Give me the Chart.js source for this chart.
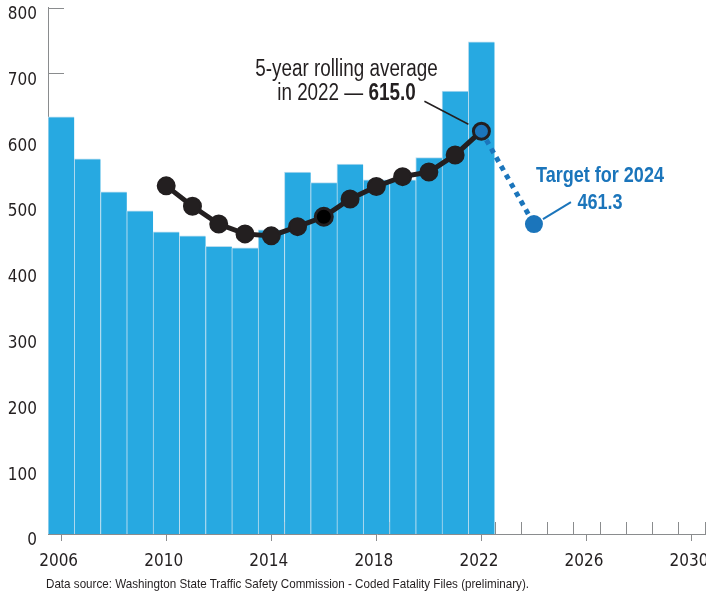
<!DOCTYPE html>
<html>
<head>
<meta charset="utf-8">
<script src="https://cdn.jsdelivr.net/npm/chart.js@4.4.1/dist/chart.umd.min.js"></script>
<style>
  html, body { margin: 0; padding: 0; background: #fff; }
  #wrap { position: relative; width: 706px; height: 596px; }
  #note { position: absolute; left: 46px; top: 576px; font: 13px 'Liberation Sans', Arial, sans-serif; color: #231f20; white-space: nowrap; transform: scaleX(0.895); transform-origin: 0 0; }
</style>
</head>
<body>
<div id="wrap">
  <canvas id="chart" width="706" height="596"></canvas>
  <div id="note">Data source: Washington State Traffic Safety Commission - Coded Fatality Files (preliminary).</div>
</div>
<script>
const years = [2006, 2007, 2008, 2009, 2010, 2011, 2012, 2013, 2014, 2015, 2016, 2017, 2018, 2019, 2020, 2021, 2022];
const fatalities = [634, 570, 520, 491, 459, 453, 437, 435, 462, 550, 534, 562, 538, 538, 572, 673, 748];
const avgYears = [2010, 2011, 2012, 2013, 2014, 2015, 2016, 2017, 2018, 2019, 2020, 2021, 2022];
const rollingAvg = [529, 498, 471, 456, 453, 467, 482, 509, 528, 543, 550, 576, 612];
const targetYears = [2022, 2024];
const targetValues = [612, 471];
const xTickYears = [2006, 2010, 2014, 2018, 2022, 2026, 2030];
const yTicks = [0, 100, 200, 300, 400, 500, 600, 700, 800];

const TICKFONT = "'DejaVu Sans Condensed', sans-serif";
const FONT = "'Liberation Sans', Arial, sans-serif";
const INK = '#231f20';
const BLUE = '#1b75bb';
const AXIS = '#8a8c8e';
const SQUEEZE = 0.82;

const avgColors = avgYears.map(y => y === 2022 ? BLUE : (y === 2016 ? '#000' : INK));
const avgBorderW = avgYears.map(y => (y === 2022 || y === 2016) ? 3 : 2);

// draw condensed text (Arial squeezed to look like a narrow face)
function narrow(ctx, text, x, y, font, align) {
  ctx.font = font;
  const w = ctx.measureText(text).width * SQUEEZE;
  const left = align === 'center' ? x - w / 2 : x;
  ctx.save();
  ctx.translate(left, y);
  ctx.scale(SQUEEZE, 1);
  ctx.textAlign = 'left';
  ctx.fillText(text, 0, 0);
  ctx.restore();
  return w;
}

// small axis ticks that sit behind the bars
const axisTicks = {
  id: 'axisTicks',
  beforeDatasetsDraw(chart) {
    const { ctx, scales: { x, y } } = chart;
    ctx.save();
    ctx.strokeStyle = AXIS;
    ctx.lineWidth = 1;
    ctx.beginPath();
    yTicks.slice(1).forEach(v => {
      const py = Math.round(y.getPixelForValue(v)) + 0.5;
      ctx.moveTo(x.left, py);
      ctx.lineTo(x.left + 16, py);
    });
    for (let yr = 2005.5; yr <= 2030.5; yr++) {
      const px = Math.round(x.getPixelForValue(yr)) + 0.5;
      ctx.moveTo(px, y.bottom);
      ctx.lineTo(px, y.bottom - 12);
    }
    ctx.stroke();
    ctx.restore();
  }
};

const notes = {
  id: 'notes',
  afterDatasetsDraw(chart) {
    const { ctx, scales: { x, y } } = chart;
    const last = { x: x.getPixelForValue(2022), y: y.getPixelForValue(612) };
    const tgt = { x: x.getPixelForValue(2024), y: y.getPixelForValue(471) };
    ctx.save();
    ctx.textBaseline = 'alphabetic';
    // rolling average label
    ctx.fillStyle = INK;
    const cx = last.x - 135;
    narrow(ctx, '5-year rolling average', cx, 76, '23px ' + FONT, 'center');
    const a = 'in 2022 \u2014 ', b = '615.0';
    ctx.font = '23px ' + FONT;
    const wa = ctx.measureText(a).width * SQUEEZE;
    ctx.font = 'bold 23px ' + FONT;
    const wb = ctx.measureText(b).width * SQUEEZE;
    narrow(ctx, a, cx - (wa + wb) / 2, 100, '23px ' + FONT, 'left');
    narrow(ctx, b, cx - (wa + wb) / 2 + wa, 100, 'bold 23px ' + FONT, 'left');
    ctx.strokeStyle = INK;
    ctx.lineWidth = 1.5;
    ctx.beginPath();
    ctx.moveTo(last.x - 57, last.y - 30);
    ctx.lineTo(last.x - 13, last.y - 7);
    ctx.stroke();
    // target label
    ctx.fillStyle = BLUE;
    narrow(ctx, 'Target for 2024', tgt.x + 66, 182, 'bold 22px ' + FONT, 'center');
    narrow(ctx, '461.3', tgt.x + 66, 209, 'bold 22px ' + FONT, 'center');
    ctx.strokeStyle = BLUE;
    ctx.lineWidth = 2;
    ctx.beginPath();
    ctx.moveTo(tgt.x + 9, tgt.y - 5);
    ctx.lineTo(tgt.x + 37, tgt.y - 22);
    ctx.stroke();
    ctx.restore();
  }
};

new Chart(document.getElementById('chart'), {
  type: 'bar',
  data: {
    datasets: [
      {
        type: 'line',
        order: 1,
        data: avgYears.map((yr, i) => ({ x: yr, y: rollingAvg[i] })),
        borderColor: INK,
        borderWidth: 5,
        tension: 0,
        pointRadius: avgYears.map(y => y === 2022 ? 8 : 8.5),
        pointBackgroundColor: avgColors,
        pointBorderColor: INK,
        pointBorderWidth: avgBorderW
      },
      {
        type: 'line',
        order: 2,
        data: targetYears.map((yr, i) => ({ x: yr, y: targetValues[i] })),
        borderColor: BLUE,
        borderWidth: 5,
        borderDash: [5, 5],
        pointRadius: [0, 9],
        pointBackgroundColor: BLUE,
        pointBorderWidth: 0
      },
      {
        type: 'bar',
        order: 3,
        data: years.map((yr, i) => ({ x: yr, y: fatalities[i] })),
        backgroundColor: '#27a9e1',
        borderColor: '#b8dcef',
        borderWidth: { top: 1, left: 1, right: 0, bottom: 0 },
        borderSkipped: false,
        barPercentage: 1,
        categoryPercentage: 1
      }
    ]
  },
  options: {
    responsive: false,
    devicePixelRatio: 1,
    animation: false,
    layout: { autoPadding: false, padding: { top: 7.5, right: 0, bottom: 0, left: 0 } },
    plugins: { legend: { display: false }, tooltip: { enabled: false } },
    scales: {
      x: {
        type: 'linear',
        offset: false,
        min: 2005.5,
        max: 2030.55,
        afterBuildTicks: s => { s.ticks = xTickYears.map(v => ({ value: v })); },
        afterFit: s => { s.height = 62; s.paddingLeft = 0; s.paddingRight = 0; },
        ticks: {
          callback: v => String(v),
          color: INK,
          font: { family: TICKFONT, size: 17 },
          padding: 10,
          labelOffset: -2.5,
          maxRotation: 0,
          autoSkip: false
        },
        grid: { offset: false, drawOnChartArea: false, tickLength: 7, tickColor: AXIS, tickWidth: 1 },
        border: { color: AXIS, width: 1 }
      },
      y: {
        min: 0,
        max: 800,
        afterBuildTicks: s => { s.ticks = yTicks.map(v => ({ value: v })); },
        afterFit: s => { s.width = 48; s.paddingTop = 0; s.paddingBottom = 0; },
        ticks: {
          color: INK,
          font: { family: TICKFONT, size: 17 },
          padding: 11,
          labelOffset: 7
        },
        grid: { display: false, drawTicks: false },
        border: { color: AXIS, width: 1 }
      }
    }
  },
  plugins: [axisTicks, notes]
});
</script>
</body>
</html>
